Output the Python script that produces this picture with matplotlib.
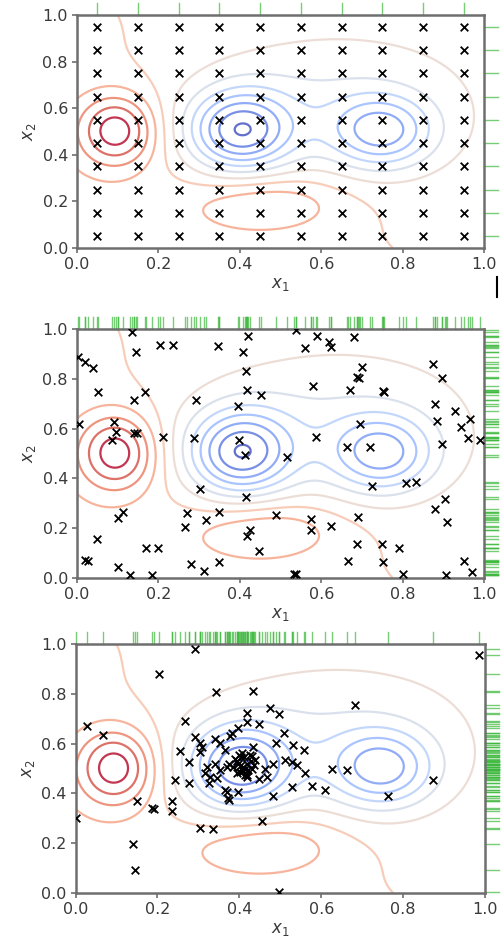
import numpy as np
import matplotlib
matplotlib.use("Agg")
import matplotlib.pyplot as plt
from matplotlib.lines import Line2D

# ---------------- data ----------------
grid_vals = [0.05, 0.15, 0.25, 0.35, 0.45, 0.55, 0.65, 0.75, 0.85, 0.95]

rand_x = [0.136, 0.204, 0.235, 0.146, 0.003, 0.019, 0.040, 0.052, 0.140, 0.166,
          0.004, 0.092, 0.097, 0.085, 0.141, 0.147, 0.211, 0.287, 0.293, 0.346,
          0.409, 0.420, 0.415, 0.417, 0.451, 0.396, 0.397, 0.414, 0.515, 0.539,
          0.559, 0.590, 0.619, 0.623, 0.680, 0.700, 0.687, 0.693, 0.579, 0.670,
          0.752, 0.754, 0.695, 0.588, 0.664, 0.721, 0.875, 0.897, 0.879, 0.884,
          0.929, 0.966, 0.944, 0.960, 0.990, 0.896, 0.726, 0.808, 0.834, 0.905,
          0.879, 0.910, 0.691, 0.623, 0.574, 0.574, 0.490, 0.416, 0.302, 0.270,
          0.266, 0.316, 0.348, 0.426, 0.418, 0.448, 0.113, 0.101, 0.048, 0.169,
          0.198, 0.020, 0.026, 0.101, 0.130, 0.184, 0.280, 0.313, 0.348, 0.534,
          0.538, 0.665, 0.687, 0.749, 0.752, 0.790, 0.802, 0.906, 0.950, 0.970]
rand_y = [0.989, 0.934, 0.934, 0.909, 0.887, 0.866, 0.843, 0.745, 0.713, 0.748,
          0.617, 0.626, 0.585, 0.554, 0.581, 0.581, 0.568, 0.562, 0.714, 0.930,
          0.909, 0.970, 0.830, 0.754, 0.734, 0.691, 0.553, 0.495, 0.486, 0.997,
          0.925, 0.970, 0.948, 0.928, 0.968, 0.847, 0.807, 0.803, 0.773, 0.756,
          0.750, 0.748, 0.619, 0.568, 0.526, 0.528, 0.860, 0.804, 0.698, 0.630,
          0.671, 0.640, 0.607, 0.561, 0.556, 0.540, 0.370, 0.380, 0.387, 0.317,
          0.279, 0.226, 0.246, 0.208, 0.235, 0.193, 0.252, 0.326, 0.357, 0.263,
          0.203, 0.232, 0.266, 0.192, 0.170, 0.109, 0.266, 0.240, 0.156, 0.122,
          0.122, 0.071, 0.067, 0.043, 0.011, 0.013, 0.058, 0.027, 0.066, 0.017,
          0.015, 0.068, 0.136, 0.136, 0.064, 0.121, 0.017, 0.011, 0.067, 0.026]

adapt_x = [0.293, 0.986, 0.204, 0.343, 0.434, 0.682, 0.028, 0.068, 0.268, 0.256,
           0.276, 0.243, 0.276, 0.235, 0.235, 0.186, 0.191, 0.149, 0.002, 0.140,
           0.146, 0.304, 0.335, 0.455, 0.496, 0.483, 0.528, 0.577, 0.609, 0.627,
           0.663, 0.764, 0.874, 0.561, 0.557, 0.532, 0.508, 0.498, 0.474, 0.418,
           0.420, 0.447, 0.490, 0.512, 0.540, 0.483, 0.463, 0.467, 0.447, 0.433,
           0.398, 0.382, 0.378, 0.292, 0.304, 0.304, 0.341, 0.353, 0.365, 0.406,
           0.426, 0.439, 0.390, 0.398, 0.410, 0.402, 0.414, 0.422, 0.370, 0.353,
           0.341, 0.321, 0.317, 0.329, 0.345, 0.528, 0.325, 0.365, 0.373, 0.398,
           0.395, 0.405, 0.415, 0.420, 0.410, 0.430, 0.400, 0.385, 0.395, 0.420,
           0.430, 0.375, 0.308, 0.369, 0.374, 0.412, 0.428, 0.437, 0.418, 0.403]
adapt_y = [0.980, 0.957, 0.879, 0.806, 0.810, 0.755, 0.670, 0.635, 0.692, 0.570,
           0.527, 0.452, 0.440, 0.370, 0.331, 0.343, 0.338, 0.371, 0.303, 0.198,
           0.094, 0.263, 0.256, 0.291, 0.004, 0.389, 0.426, 0.429, 0.413, 0.497,
           0.493, 0.389, 0.452, 0.483, 0.574, 0.594, 0.643, 0.717, 0.741, 0.724,
           0.688, 0.678, 0.603, 0.534, 0.513, 0.520, 0.496, 0.467, 0.456, 0.587,
           0.661, 0.643, 0.630, 0.625, 0.601, 0.567, 0.617, 0.601, 0.574, 0.561,
           0.554, 0.534, 0.540, 0.520, 0.507, 0.487, 0.473, 0.493, 0.507, 0.493,
           0.520, 0.507, 0.480, 0.466, 0.460, 0.527, 0.440, 0.413, 0.380, 0.406,
           0.530, 0.515, 0.500, 0.520, 0.490, 0.550, 0.555, 0.505, 0.480, 0.475,
           0.500, 0.520, 0.587, 0.406, 0.373, 0.545, 0.530, 0.515, 0.465, 0.545]

# underlying objective: trend + Gaussian bumps
bump_cx = [0.097, 0.40, 0.75, 0.47, 0.55]
bump_cy = [0.505, 0.50, 0.50, 0.19, 0.60]
bump_sx = [0.067, 0.09, 0.09, 0.125, 0.22]
bump_sy = [0.108, 0.12, 0.11, 0.085, 0.20]
bump_amp = [0.445, -0.59, -0.45, 0.19, -0.18]
trend_base = 0.15
trend_slope = 0.10
trend_offset = 0.78
trend_ycoef = 0.65
levels = [-0.55, -0.45, -0.35, -0.25, -0.15, -0.05, 0.05, 0.15, 0.25, 0.35, 0.45, 0.55]
ticks = [0.0, 0.2, 0.4, 0.6, 0.8, 1.0]


def objective(x, y):
    z = trend_base + trend_slope * (trend_offset - x - trend_ycoef * y)
    for cx, cy, sx, sy, a in zip(bump_cx, bump_cy, bump_sx, bump_sy, bump_amp):
        z = z + a * np.exp(-0.5 * (((x - cx) / sx) ** 2 + ((y - cy) / sy) ** 2))
    return z


gx = np.linspace(0, 1, 300)
GX, GY = np.meshgrid(gx, gx)
GZ = objective(GX, GY)

gxx, gyy = np.meshgrid(grid_vals, grid_vals)
datasets = [
    (gxx.ravel(), gyy.ravel(), grid_vals, grid_vals),
    (np.array(rand_x), np.array(rand_y), rand_x, rand_y),
    (np.array(adapt_x), np.array(adapt_y), adapt_x, adapt_y),
]

W, H = 502, 939
fig = plt.figure(figsize=(W / 100, H / 100), dpi=100)
rects = [
    (77, 15, 484, 248),
    (77, 329, 484, 578),
    (75.5, 644, 485, 893),
]

spine_col = "#6e6e6e"
text_col = "#3a3a3a"
for (l, t, r, b), (px, py, rx, ry) in zip(rects, datasets):
    ax = fig.add_axes([l / W, (H - b) / H, (r - l) / W, (b - t) / H])
    ax.contour(GX, GY, GZ, levels=levels, cmap="coolwarm", linewidths=1.6, alpha=0.8)
    ax.scatter(px, py, marker="x", color="black", s=30, linewidths=1.3, zorder=3)
    # rugs
    for v in rx:
        ax.plot([v, v], [1.0, 1.0 + 12 / (b - t)], color="#3cb83c", alpha=0.7,
                lw=1.0, transform=ax.transData, clip_on=False)
    for v in ry:
        ax.plot([1.0, 1.0 + 14 / (r - l)], [v, v], color="#3cb83c", alpha=0.7,
                lw=1.0, transform=ax.transData, clip_on=False)
    ax.set_xlim(0, 1)
    ax.set_ylim(0, 1)
    ax.set_xticks(ticks)
    ax.set_yticks(ticks)
    ax.set_xticklabels([f"{v:.1f}" for v in ticks])
    ax.set_yticklabels([f"{v:.1f}" for v in ticks])
    ax.tick_params(labelsize=11.5, colors=text_col, length=3.5, width=1.2, color=spine_col,
                   pad=3)
    for s in ax.spines.values():
        s.set_color(spine_col)
        s.set_linewidth(1.8)
    ax.set_xlabel("$x_1$", fontsize=12, color=text_col, labelpad=2)
    ax.set_ylabel("$x_2$", fontsize=12, color=text_col, labelpad=3)

# small stray vertical bar at the right of the first panel
fig.add_artist(Line2D([497.5 / W, 497.5 / W], [(H - 277) / H, (H - 297) / H],
                      color="black", lw=1.5))

fig.savefig("out.png", dpi=100)
